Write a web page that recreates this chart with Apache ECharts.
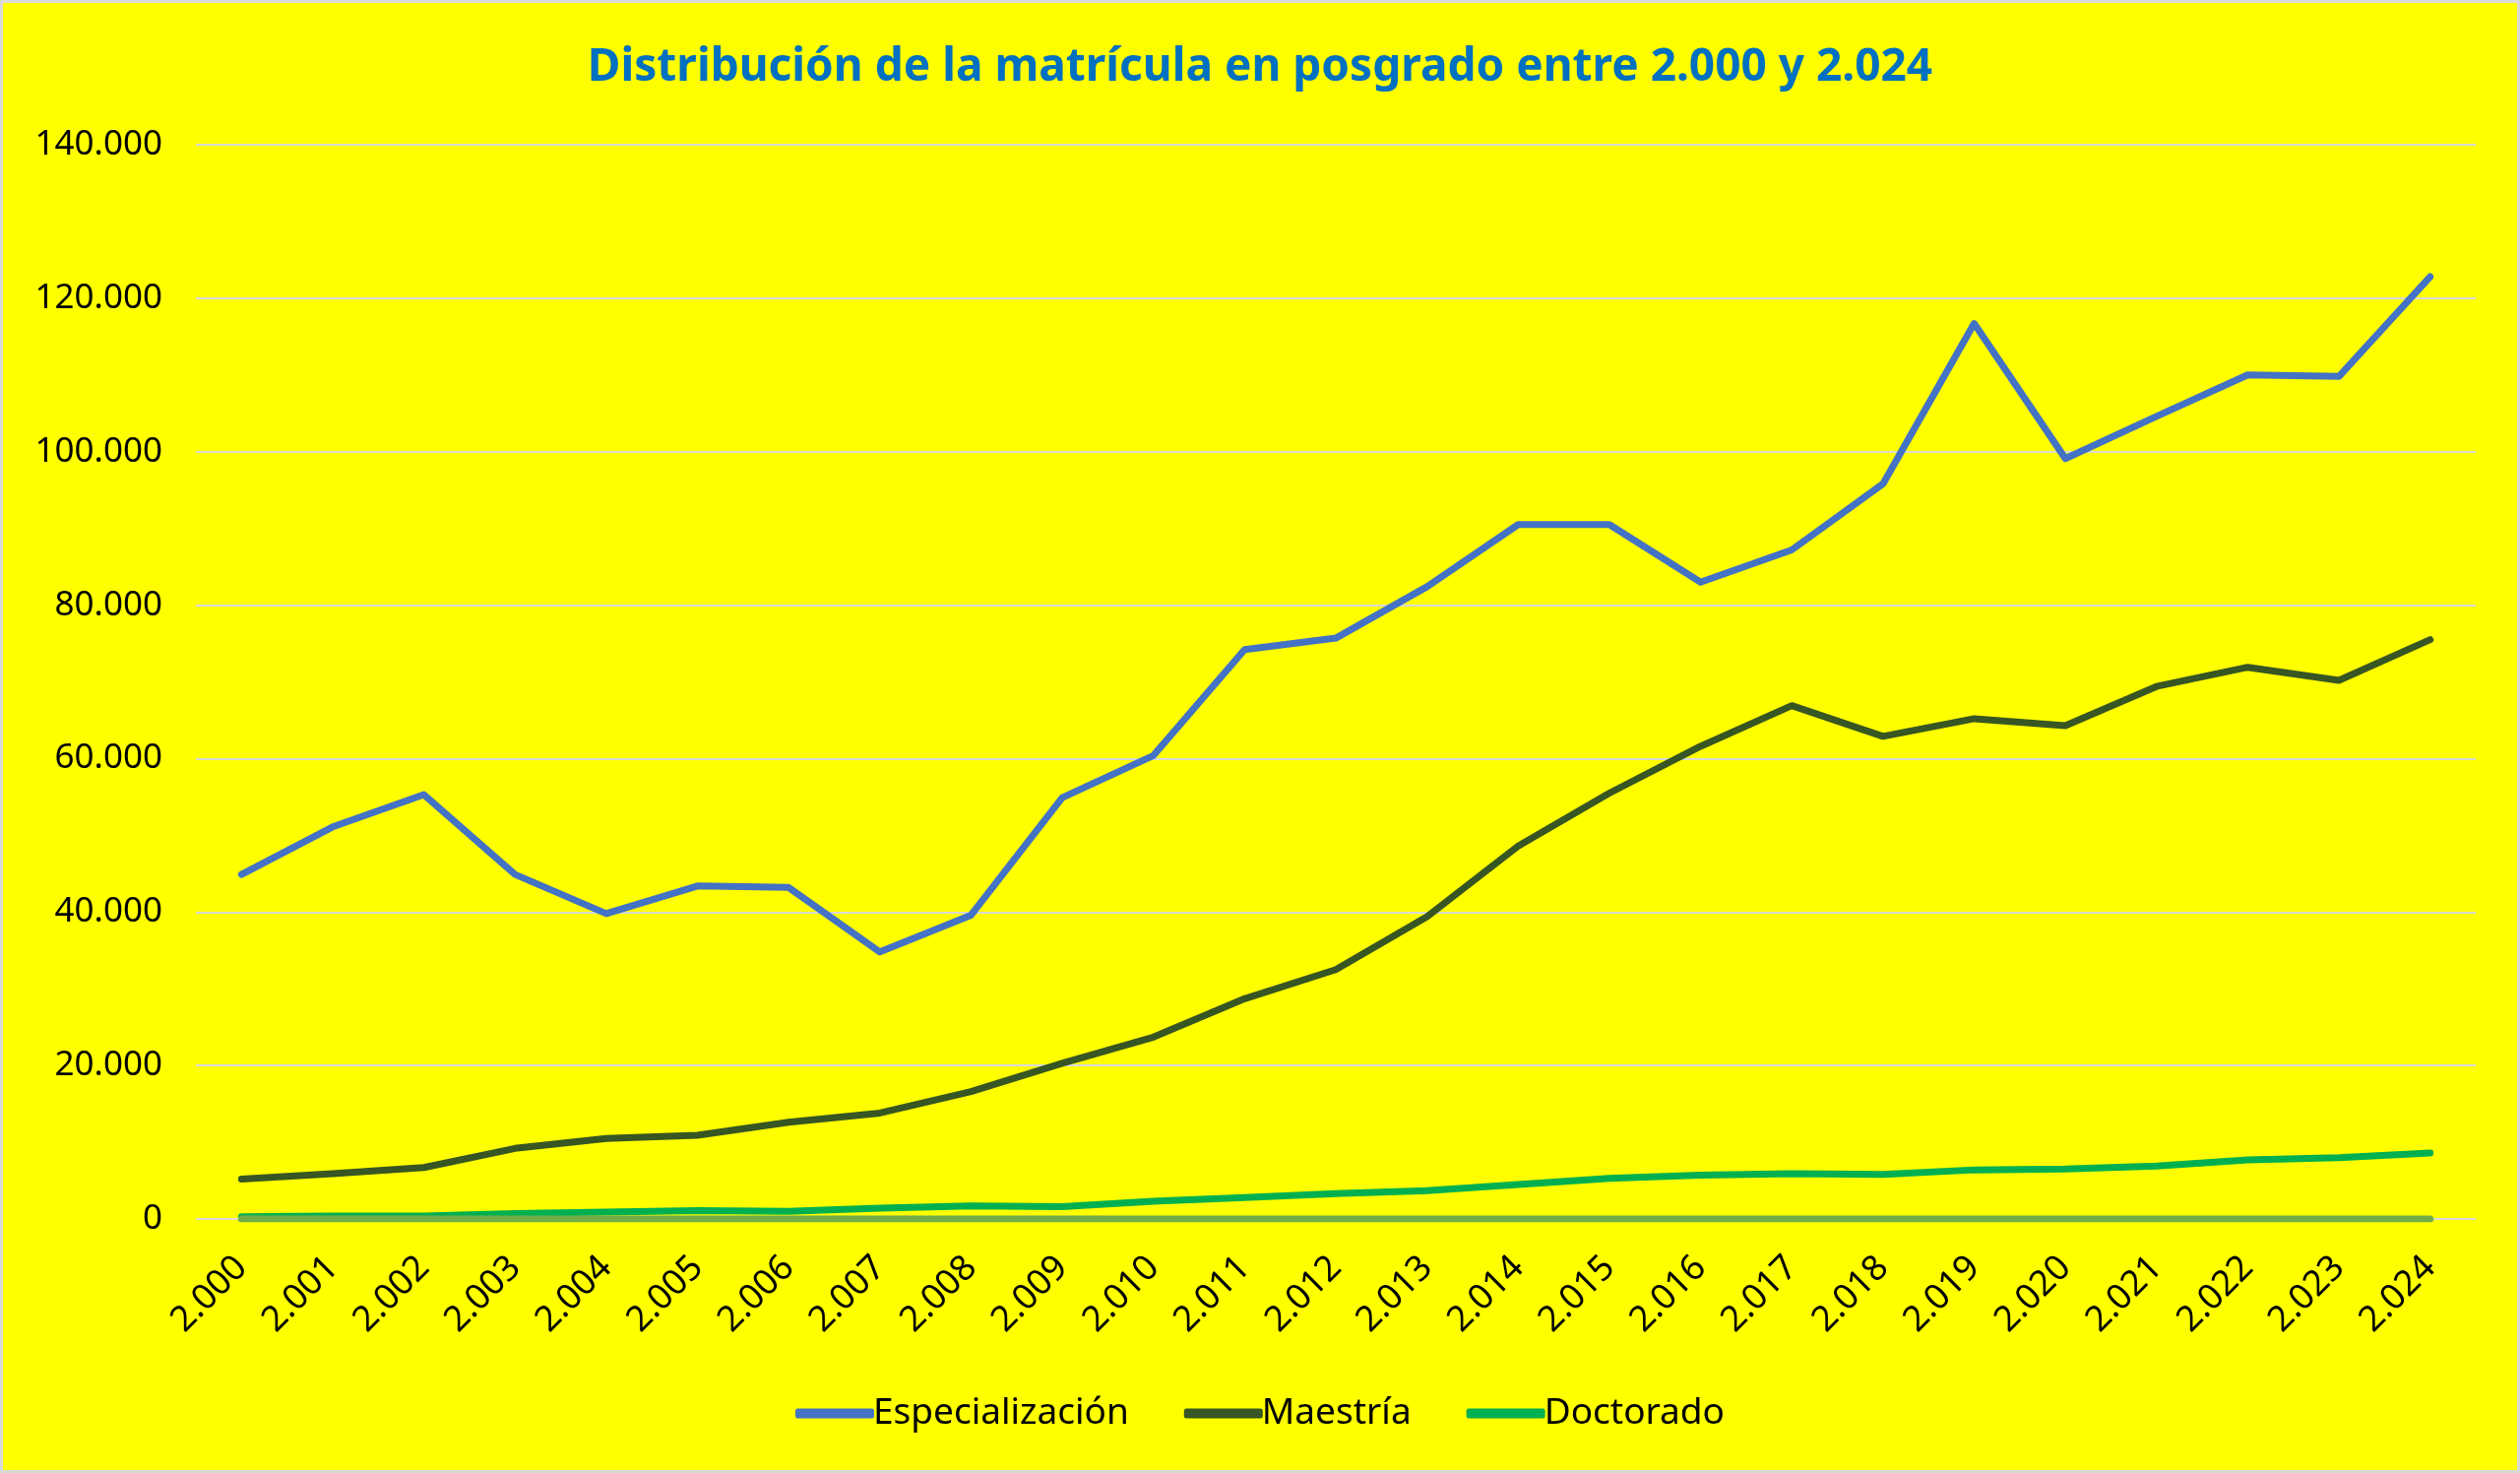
<!DOCTYPE html>
<html>
<head>
<meta charset="utf-8">
<script src="https://cdn.jsdelivr.net/npm/echarts@6/dist/echarts.min.js"></script>
<style>
  html, body { margin:0; padding:0; background:#d9d9d9; }
  #chart { position:absolute; left:3px; top:3px; width:2554px; height:1490px; background:#ffff00; }
</style>
</head>
<body>
<div id="chart"></div>
<script>
// años
const years = ['2.000','2.001','2.002','2.003','2.004','2.005','2.006','2.007','2.008','2.009','2.010','2.011','2.012',
  '2.013','2.014','2.015','2.016','2.017','2.018','2.019','2.020','2.021','2.022','2.023','2.024'];

const especializacion = [44900,51100,55300,44900,39800,43400,43200,34800,39600,54900,60400,74200,75700,
  82400,90500,90500,83000,87200,95800,116700,99100,104600,110000,109800,122800];
const maestria = [5200,5900,6700,9200,10500,10900,12600,13800,16600,20300,23700,28700,32500,
  39400,48600,55500,61600,66900,62900,65200,64300,69400,71900,70200,75500];
const doctorado = [300,400,400,700,900,1100,1000,1400,1700,1600,2300,2800,3300,
  3700,4500,5300,5700,5900,5800,6400,6500,6900,7700,8000,8600];
// linea en cero que aparece en el grafico original
const base = [0,0,0,0,0,0,0,0,0,0,0,0,0,0,0,0,0,0,0,0,0,0,0,0,0];

const yTicks = { min: 0, max: 140000, interval: 20000 };

function fmt(v){
  return String(v).replace(/\B(?=(\d{3})+(?!\d))/g, '.');
}

let chart = echarts.init(document.getElementById('chart'));
let font = 'Noto Sans';

function lineSerie(name, data, color, width, z){
  return {
    name: name,
    type: 'line',
    data: data,
    symbol: 'none',
    z: z,
    lineStyle: { color: color, width: width, cap: 'round', join: 'round' },
    itemStyle: { color: color }
  };
}

chart.setOption({
  animation: false,
  textStyle: { fontFamily: font },
  title: {
    text: 'Distribución de la matrícula en posgrado entre 2.000 y 2.024',
    left: 'center',
    top: 38,
    textStyle: { color:'#0070c0', fontSize: 46, fontWeight: 'bold', fontFamily: font }
  },
  legend: {
    data: ['Especialización','Maestría','Doctorado'],
    bottom: 34,
    left: 'center',
    itemWidth: 80,
    itemHeight: 10,
    itemGap: 56,
    icon: 'roundRect',
    textStyle: { color:'#000', fontSize: 37, fontFamily: font, padding:[0,0,0,-6] }
  },
  grid: { left: 196, right: 42, top: 144, bottom: 255, containLabel: false },
  xAxis: {
    type: 'category',
    data: years,
    boundaryGap: true,
    axisLine: { show: false },
    axisTick: { show: false },
    axisLabel: { rotate: 45, color:'#000', fontSize: 36, margin: 44, fontFamily: font }
  },
  yAxis: {
    type: 'value',
    min: yTicks.min,
    max: yTicks.max,
    interval: yTicks.interval,
    axisLine: { show: false },
    axisTick: { show: false },
    splitLine: { lineStyle: { color:'#d9d9d9', width: 2 } },
    axisLabel: { color:'#000', fontSize: 35, margin: 34, fontFamily: font, formatter: fmt }
  },
  series: [
    lineSerie('Especialización', especializacion, '#4472c4', 7, 3),
    lineSerie('Maestría', maestria, '#375623', 7, 3),
    lineSerie('Doctorado', doctorado, '#00b050', 7, 3),
    lineSerie('', base, '#70ad47', 7, 4)
  ]
});
</script>
</body>
</html>
